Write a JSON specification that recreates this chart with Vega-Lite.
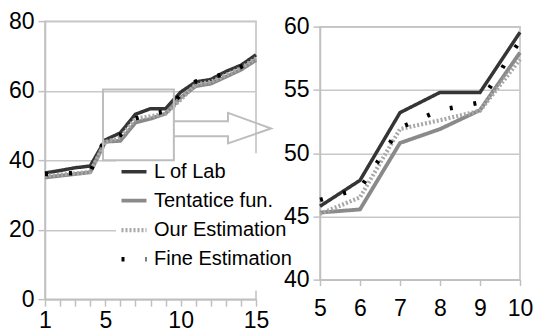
{
  "$schema": "https://vega.github.io/schema/vega-lite/v6.json",
  "padding": {"left": 7, "top": 9, "right": 0, "bottom": 0},
  "background": "white",
  "config": {
    "font": "Liberation Sans",
    "view": {"stroke": "#c0c0c0", "strokeWidth": 1.5},
    "axis": {
      "labelFont": "Liberation Sans",
      "labelFontSize": 23,
      "labelColor": "#000000",
      "domainColor": "#c0c0c0",
      "tickColor": "#c0c0c0",
      "gridColor": "#c8c8c8",
      "domainWidth": 1.5,
      "tickWidth": 1.5,
      "gridWidth": 1.5,
      "labelOverlap": false,
      "labelFlush": false
    }
  },
  "datasets": {
    "series": [
      {"x": 1, "y": 36.3, "series": "L of Lab"},
      {"x": 2, "y": 37.0, "series": "L of Lab"},
      {"x": 3, "y": 37.8, "series": "L of Lab"},
      {"x": 4, "y": 38.3, "series": "L of Lab"},
      {"x": 5, "y": 45.8, "series": "L of Lab"},
      {"x": 6, "y": 47.85, "series": "L of Lab"},
      {"x": 7, "y": 53.2, "series": "L of Lab"},
      {"x": 8, "y": 54.8, "series": "L of Lab"},
      {"x": 9, "y": 54.8, "series": "L of Lab"},
      {"x": 10, "y": 59.55, "series": "L of Lab"},
      {"x": 11, "y": 62.5, "series": "L of Lab"},
      {"x": 12, "y": 63.2, "series": "L of Lab"},
      {"x": 13, "y": 65.5, "series": "L of Lab"},
      {"x": 14, "y": 67.3, "series": "L of Lab"},
      {"x": 15, "y": 70.3, "series": "L of Lab"},
      {"x": 1, "y": 35.0, "series": "Tentatice fun."},
      {"x": 2, "y": 35.5, "series": "Tentatice fun."},
      {"x": 3, "y": 36.0, "series": "Tentatice fun."},
      {"x": 4, "y": 36.5, "series": "Tentatice fun."},
      {"x": 5, "y": 45.3, "series": "Tentatice fun."},
      {"x": 6, "y": 45.55, "series": "Tentatice fun."},
      {"x": 7, "y": 50.8, "series": "Tentatice fun."},
      {"x": 8, "y": 51.9, "series": "Tentatice fun."},
      {"x": 9, "y": 53.4, "series": "Tentatice fun."},
      {"x": 10, "y": 57.95, "series": "Tentatice fun."},
      {"x": 11, "y": 61.3, "series": "Tentatice fun."},
      {"x": 12, "y": 62.0, "series": "Tentatice fun."},
      {"x": 13, "y": 64.0, "series": "Tentatice fun."},
      {"x": 14, "y": 66.0, "series": "Tentatice fun."},
      {"x": 15, "y": 68.8, "series": "Tentatice fun."},
      {"x": 1, "y": 35.5, "series": "Our Estimation"},
      {"x": 2, "y": 35.8, "series": "Our Estimation"},
      {"x": 3, "y": 36.2, "series": "Our Estimation"},
      {"x": 4, "y": 36.6, "series": "Our Estimation"},
      {"x": 5, "y": 45.2, "series": "Our Estimation"},
      {"x": 6, "y": 46.5, "series": "Our Estimation"},
      {"x": 7, "y": 51.9, "series": "Our Estimation"},
      {"x": 8, "y": 52.6, "series": "Our Estimation"},
      {"x": 9, "y": 53.35, "series": "Our Estimation"},
      {"x": 10, "y": 57.4, "series": "Our Estimation"},
      {"x": 11, "y": 61.8, "series": "Our Estimation"},
      {"x": 12, "y": 62.5, "series": "Our Estimation"},
      {"x": 13, "y": 64.5, "series": "Our Estimation"},
      {"x": 14, "y": 66.5, "series": "Our Estimation"},
      {"x": 15, "y": 69.3, "series": "Our Estimation"},
      {"x": 1, "y": 36.0, "series": "Fine Estimation"},
      {"x": 2, "y": 36.1, "series": "Fine Estimation"},
      {"x": 3, "y": 36.3, "series": "Fine Estimation"},
      {"x": 4, "y": 36.7, "series": "Fine Estimation"},
      {"x": 5, "y": 46.3, "series": "Fine Estimation"},
      {"x": 6, "y": 47.2, "series": "Fine Estimation"},
      {"x": 7, "y": 52.0, "series": "Fine Estimation"},
      {"x": 8, "y": 53.4, "series": "Fine Estimation"},
      {"x": 9, "y": 54.0, "series": "Fine Estimation"},
      {"x": 10, "y": 58.9, "series": "Fine Estimation"},
      {"x": 11, "y": 62.6, "series": "Fine Estimation"},
      {"x": 12, "y": 63.6, "series": "Fine Estimation"},
      {"x": 13, "y": 65.0, "series": "Fine Estimation"},
      {"x": 14, "y": 66.8, "series": "Fine Estimation"},
      {"x": 15, "y": 69.5, "series": "Fine Estimation"}
    ],
    "legendBox": [{"x1": 5.71, "x2": 15.3, "y1": 2.5, "y2": 42.0}],
    "zoomBox": [{"x1": 4.85, "x2": 9.55, "y1": 40, "y2": 60.3}],
    "arrow": [
      {"i": 0, "x": 9.55, "y": 51.2},
      {"i": 1, "x": 13.14, "y": 51.2},
      {"i": 2, "x": 13.14, "y": 53.6},
      {"i": 3, "x": 16.0, "y": 49.1},
      {"i": 4, "x": 13.14, "y": 44.8},
      {"i": 5, "x": 13.14, "y": 46.9},
      {"i": 6, "x": 9.55, "y": 46.9}
    ]
  },
  "hconcat": [
    {
      "width": 211,
      "height": 278,
      "resolve": {"axis": {"x": "independent"}},
      "layer": [
        {
          "data": {"name": "legendBox"},
          "mark": {"type": "rect", "fill": "white", "strokeWidth": 0},
          "encoding": {
            "x": {"field": "x1", "type": "quantitative", "title": null,
                  "scale": {"domain": [1, 15], "nice": false, "zero": false},
                  "axis": {"orient": "bottom", "title": null, "values": [1,2,3,4,5,6,7,8,9,10,11,12,13,14,15], "grid": false, "tickSize": 7, "labels": false}},
            "x2": {"field": "x2"},
            "y": {"field": "y1", "type": "quantitative", "title": null,
                  "scale": {"domain": [0, 80], "nice": false},
                  "axis": {"title": null, "values": [0, 20, 40, 60, 80], "grid": true, "tickSize": 7, "labelPadding": 4, "labelOverlap": false}},
            "y2": {"field": "y2"}
          }
        },
        {
          "data": {"name": "series"},
          "mark": {"type": "line", "strokeCap": "butt"},
          "encoding": {
            "x": {"field": "x", "type": "quantitative", "title": null, "scale": {"domain": [1, 15], "nice": false, "zero": false},
                  "axis": {"orient": "bottom", "title": null, "values": [1, 5, 10, 15], "grid": false, "ticks": false, "domain": false, "labelPadding": 10, "labelOverlap": false}},
            "y": {"field": "y", "type": "quantitative", "title": null, "scale": {"domain": [0, 80], "nice": false}},
            "color": {"field": "series", "type": "nominal",
                      "scale": {"domain": ["L of Lab", "Tentatice fun.", "Our Estimation", "Fine Estimation"], "range": ["#353535", "#8a8a8a", "#a8a8a8", "#000000"]},
                      "legend": {"orient": "none", "legendX": 74, "legendY": 136, "title": null, "symbolType": "stroke", "symbolSize": 625, "labelFontSize": 20, "labelFont": "Liberation Sans", "labelColor": "#000000", "labelOffset": 5, "rowPadding": 4, "padding": 0}},
            "strokeDash": {"field": "series", "type": "nominal",
                      "scale": {"domain": ["L of Lab", "Tentatice fun.", "Our Estimation", "Fine Estimation"], "range": [[1, 0], [1, 0], [2, 2], [3, 21]]},
                      "legend": {"orient": "none", "legendX": 74, "legendY": 136, "title": null, "symbolType": "stroke", "symbolSize": 625, "labelFontSize": 20, "labelFont": "Liberation Sans", "labelColor": "#000000", "labelOffset": 5, "rowPadding": 4, "padding": 0}},
            "strokeWidth": {"field": "series", "type": "ordinal",
                      "scale": {"domain": ["L of Lab", "Tentatice fun.", "Our Estimation", "Fine Estimation"], "range": [3.5, 4.5, 3.5, 3]},
                      "legend": {"orient": "none", "legendX": 74, "legendY": 136, "title": null, "symbolType": "stroke", "symbolSize": 625, "labelFontSize": 20, "labelFont": "Liberation Sans", "labelColor": "#000000", "labelOffset": 5, "rowPadding": 4, "padding": 0}}
          }
        },
        {
          "data": {"name": "zoomBox"},
          "mark": {"type": "rect", "fill": null, "stroke": "#bdbdbd", "strokeWidth": 2},
          "encoding": {
            "x": {"field": "x1", "type": "quantitative", "title": null, "scale": {"domain": [1, 15], "nice": false, "zero": false}, "axis": null},
            "x2": {"field": "x2"},
            "y": {"field": "y1", "type": "quantitative", "title": null, "scale": {"domain": [0, 80], "nice": false}},
            "y2": {"field": "y2"}
          }
        },
        {
          "data": {"name": "arrow"},
          "mark": {"type": "line", "color": "#bdbdbd", "strokeWidth": 2},
          "encoding": {
            "x": {"field": "x", "type": "quantitative", "title": null, "scale": {"domain": [1, 15], "nice": false, "zero": false}, "axis": null},
            "y": {"field": "y", "type": "quantitative", "title": null, "scale": {"domain": [0, 80], "nice": false}},
            "order": {"field": "i", "type": "quantitative"}
          }
        }
      ]
    },
    {
      "width": 200,
      "height": 253,
      "data": {"name": "series"},
      "transform": [{"filter": "datum.x >= 5 && datum.x <= 10"}],
      "mark": {"type": "line", "strokeCap": "butt"},
      "encoding": {
        "x": {"field": "x", "type": "quantitative",
              "scale": {"domain": [5, 10], "nice": false, "zero": false},
              "axis": {"title": " ", "titleFontSize": 6, "titlePadding": 0, "values": [5, 6, 7, 8, 9, 10], "grid": false, "tickSize": 6, "labelPadding": 12, "labelOverlap": false}},
        "y": {"field": "y", "type": "quantitative", "title": null,
              "scale": {"domain": [40, 60], "nice": false, "zero": false},
              "axis": {"title": null, "values": [40, 45, 50, 55, 60], "grid": true, "tickSize": 7, "labelPadding": 4, "labelOverlap": false}},
        "color": {"field": "series", "type": "nominal",
                  "scale": {"domain": ["L of Lab", "Tentatice fun.", "Our Estimation", "Fine Estimation"], "range": ["#353535", "#8a8a8a", "#a8a8a8", "#000000"]},
                  "legend": null},
        "strokeDash": {"field": "series", "type": "nominal",
                  "scale": {"domain": ["L of Lab", "Tentatice fun.", "Our Estimation", "Fine Estimation"], "range": [[1, 0], [1, 0], [2, 2], [3, 21]]},
                  "legend": null},
        "strokeWidth": {"field": "series", "type": "ordinal",
                  "scale": {"domain": ["L of Lab", "Tentatice fun.", "Our Estimation", "Fine Estimation"], "range": [3.5, 4.5, 3.5, 3]},
                  "legend": null}
      }
    }
  ],
  "spacing": -11,
  "center": true,
  "resolve": {"scale": {"color": "independent", "strokeDash": "independent", "strokeWidth": "independent"}}
}
